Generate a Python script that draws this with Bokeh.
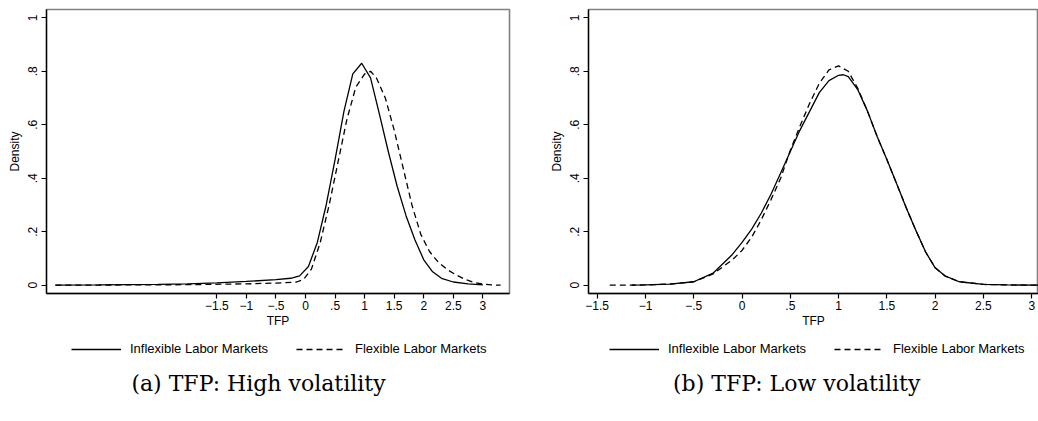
from bokeh.plotting import figure
from bokeh.layouts import row, column
from bokeh.models import Range1d, FixedTicker, Legend, LegendItem, Label
from bokeh.embed import file_html
from bokeh.resources import INLINE

# ---------------- data ----------------
# Panel (a): TFP, high volatility
a_inflex_x = [-4.23, -3.5, -3.0, -2.5, -2.0, -1.5, -1.0, -0.5, -0.25, -0.1, 0.05, 0.2, 0.35,
              0.5, 0.65, 0.8, 0.95, 1.1, 1.25, 1.4, 1.55, 1.7, 1.85, 2.0, 2.15, 2.3, 2.5, 2.75, 3.0]
a_inflex_y = [0.0, 0.001, 0.002, 0.003, 0.005, 0.009, 0.014, 0.021, 0.026, 0.035, 0.07, 0.16, 0.30,
              0.47, 0.65, 0.79, 0.83, 0.775, 0.64, 0.50, 0.37, 0.26, 0.17, 0.095, 0.05, 0.026, 0.012, 0.005, 0.001]
a_flex_x = [-4.23, -3.0, -2.0, -1.0, -0.5, -0.15, -0.03, 0.1, 0.25, 0.4, 0.55, 0.7, 0.85, 1.0, 1.1,
            1.2, 1.35, 1.5, 1.65, 1.8, 1.95, 2.1, 2.25, 2.4, 2.55, 2.7, 2.85, 3.0, 3.15, 3.3]
a_flex_y = [0.0, 0.001, 0.002, 0.005, 0.008, 0.012, 0.022, 0.06, 0.16, 0.30, 0.46, 0.62, 0.74, 0.79, 0.80,
            0.775, 0.70, 0.58, 0.44, 0.30, 0.19, 0.125, 0.085, 0.058, 0.038, 0.022, 0.01, 0.004, 0.001, 0.0]

# Panel (b): TFP, low volatility
b_inflex_x = [-1.14, -1.0, -0.75, -0.5, -0.3, -0.1, 0.0, 0.1, 0.2, 0.3, 0.4, 0.5, 0.6, 0.7, 0.8, 0.9,
              1.0, 1.05, 1.1, 1.2, 1.3, 1.4, 1.5, 1.6, 1.7, 1.8, 1.9, 2.0, 2.1, 2.25, 2.5, 2.75, 3.07]
b_inflex_y = [0.0, 0.001, 0.004, 0.013, 0.045, 0.115, 0.16, 0.21, 0.27, 0.34, 0.42, 0.50, 0.58, 0.65, 0.72, 0.765,
              0.785, 0.787, 0.78, 0.73, 0.65, 0.555, 0.47, 0.38, 0.29, 0.205, 0.125, 0.065, 0.035, 0.013, 0.003, 0.001, 0.0]
b_flex_x = [-1.37, -1.0, -0.75, -0.5, -0.3, -0.1, 0.0, 0.1, 0.2, 0.3, 0.4, 0.5, 0.6, 0.7, 0.8, 0.9,
            1.0, 1.1, 1.2, 1.3, 1.4, 1.5, 1.6, 1.7, 1.8, 1.9, 2.0, 2.1, 2.25, 2.5, 2.75, 3.07]
b_flex_y = [0.0, 0.001, 0.004, 0.013, 0.042, 0.095, 0.13, 0.18, 0.245, 0.32, 0.40, 0.505, 0.595, 0.68, 0.755, 0.805,
            0.82, 0.80, 0.735, 0.65, 0.555, 0.47, 0.38, 0.29, 0.205, 0.125, 0.065, 0.035, 0.013, 0.003, 0.001, 0.0]

x_ticks = [-1.5, -1.0, -0.5, 0.0, 0.5, 1.0, 1.5, 2.0, 2.5, 3.0]
x_tick_labels = ["\u22121.5", "\u22121", "\u2212.5", "0", ".5", "1", "1.5", "2", "2.5", "3"]
y_ticks = [0.0, 0.2, 0.4, 0.6, 0.8, 1.0]
y_tick_labels = ["0", ".2", ".4", ".6", ".8", "1"]

series_labels = ["Inflexible Labor Markets", "Flexible Labor Markets"]
captions = ["(a) TFP: High volatility", "(b) TFP: Low volatility"]
x_title = "TFP"
y_title = "Density"

SANS = "Liberation Sans"
SERIF = "DejaVu Serif"
DASH = "6 4"


def make_plot(xs1, ys1, xs2, ys2, xr, width, border_l, border_r):
    p = figure(output_backend="svg", toolbar_location=None,
               width=width, height=330,
               min_border_left=border_l, min_border_right=border_r,
               min_border_top=9, min_border_bottom=37,
               x_range=Range1d(*xr), y_range=Range1d(-0.031, 1.031))
    p.background_fill_color = "white"
    p.border_fill_color = "white"
    p.outline_line_color = "#808080"
    p.outline_line_width = 1.6
    p.xgrid.visible = False
    p.ygrid.visible = False

    p.line(xs1, ys1, line_color="black", line_width=1.3)
    p.line(xs2, ys2, line_color="black", line_width=1.3, line_dash=DASH)

    for ax, ticks, labels in ((p.xaxis[0], x_ticks, x_tick_labels), (p.yaxis[0], y_ticks, y_tick_labels)):
        ax.ticker = FixedTicker(ticks=ticks)
        ax.major_label_overrides = {t: l for t, l in zip(ticks, labels)}
        ax.minor_tick_line_color = None
        ax.major_tick_in = 0
        ax.major_tick_out = 5
        ax.axis_line_color = "black"
        ax.axis_line_width = 1.3
        ax.major_tick_line_color = "black"
        ax.major_tick_line_width = 1.2
        ax.major_label_text_font = SANS
        ax.major_label_text_font_size = "12px"
        ax.major_label_text_color = "black"
        ax.axis_label_text_font = SANS
        ax.axis_label_text_font_size = "12px"
        ax.axis_label_text_font_style = "normal"
        ax.axis_label_text_color = "black"

    p.xaxis.axis_label = x_title
    p.xaxis.major_label_standoff = 2
    p.xaxis.axis_label_standoff = 1
    p.yaxis.axis_label = y_title
    p.yaxis.major_label_orientation = "vertical"
    p.yaxis.major_label_standoff = 4
    p.yaxis.axis_label_standoff = 4
    return p


def make_key(xs1, ys1, xs2, ys2, width, border_l, border_r, legend_left, caption, caption_cx):
    h = 91
    fw = width - border_l - border_r
    k = figure(output_backend="svg", toolbar_location=None,
               width=width, height=h,
               min_border_left=border_l, min_border_right=border_r,
               min_border_top=0, min_border_bottom=0,
               x_axis_location=None, y_axis_location=None,
               x_range=Range1d(0, fw), y_range=Range1d(0, h))
    k.outline_line_color = None
    k.xgrid.visible = False
    k.ygrid.visible = False
    k.background_fill_color = "white"
    k.border_fill_color = "white"
    # legend samples: same series, hidden in this key panel
    r1 = k.line(xs1, ys1, line_color="black", line_width=1.3, visible=False)
    r2 = k.line(xs2, ys2, line_color="black", line_width=1.3, line_dash=DASH, visible=False)
    legend = Legend(items=[LegendItem(label=series_labels[0], renderers=[r1]),
                           LegendItem(label=series_labels[1], renderers=[r2])],
                    orientation="horizontal", location=(legend_left, h - 12 - 14),
                    glyph_width=50, glyph_height=14, label_height=14,
                    label_standoff=9, spacing=28, padding=0, margin=0,
                    border_line_color=None, background_fill_alpha=0,
                    inactive_fill_alpha=0,
                    label_text_font=SANS, label_text_font_size="13px",
                    label_text_color="black", label_text_baseline="middle")
    k.add_layout(legend, "center")
    k.add_layout(Label(x=caption_cx, y=38, text=caption, text_align="center",
                       text_baseline="middle", text_font=SERIF, text_font_size="22px",
                       text_color="black"))
    return k


pa = make_plot(a_inflex_x, a_inflex_y, a_flex_x, a_flex_y, (-4.38, 3.45), 546, 46, 37)
pb = make_plot(b_inflex_x, b_inflex_y, b_flex_x, b_flex_y, (-1.59, 3.07), 492, 38, 0)
ka = make_key(a_inflex_x, a_inflex_y, a_flex_x, a_flex_y, 546, 46, 37, 25, captions[0], 212)
kb = make_key(b_inflex_x, b_inflex_y, b_flex_x, b_flex_y, 492, 38, 0, 21, captions[1], 210)

layout = row(column(pa, ka), column(pb, kb))
open("out.html", "w").write(file_html(layout, INLINE))
